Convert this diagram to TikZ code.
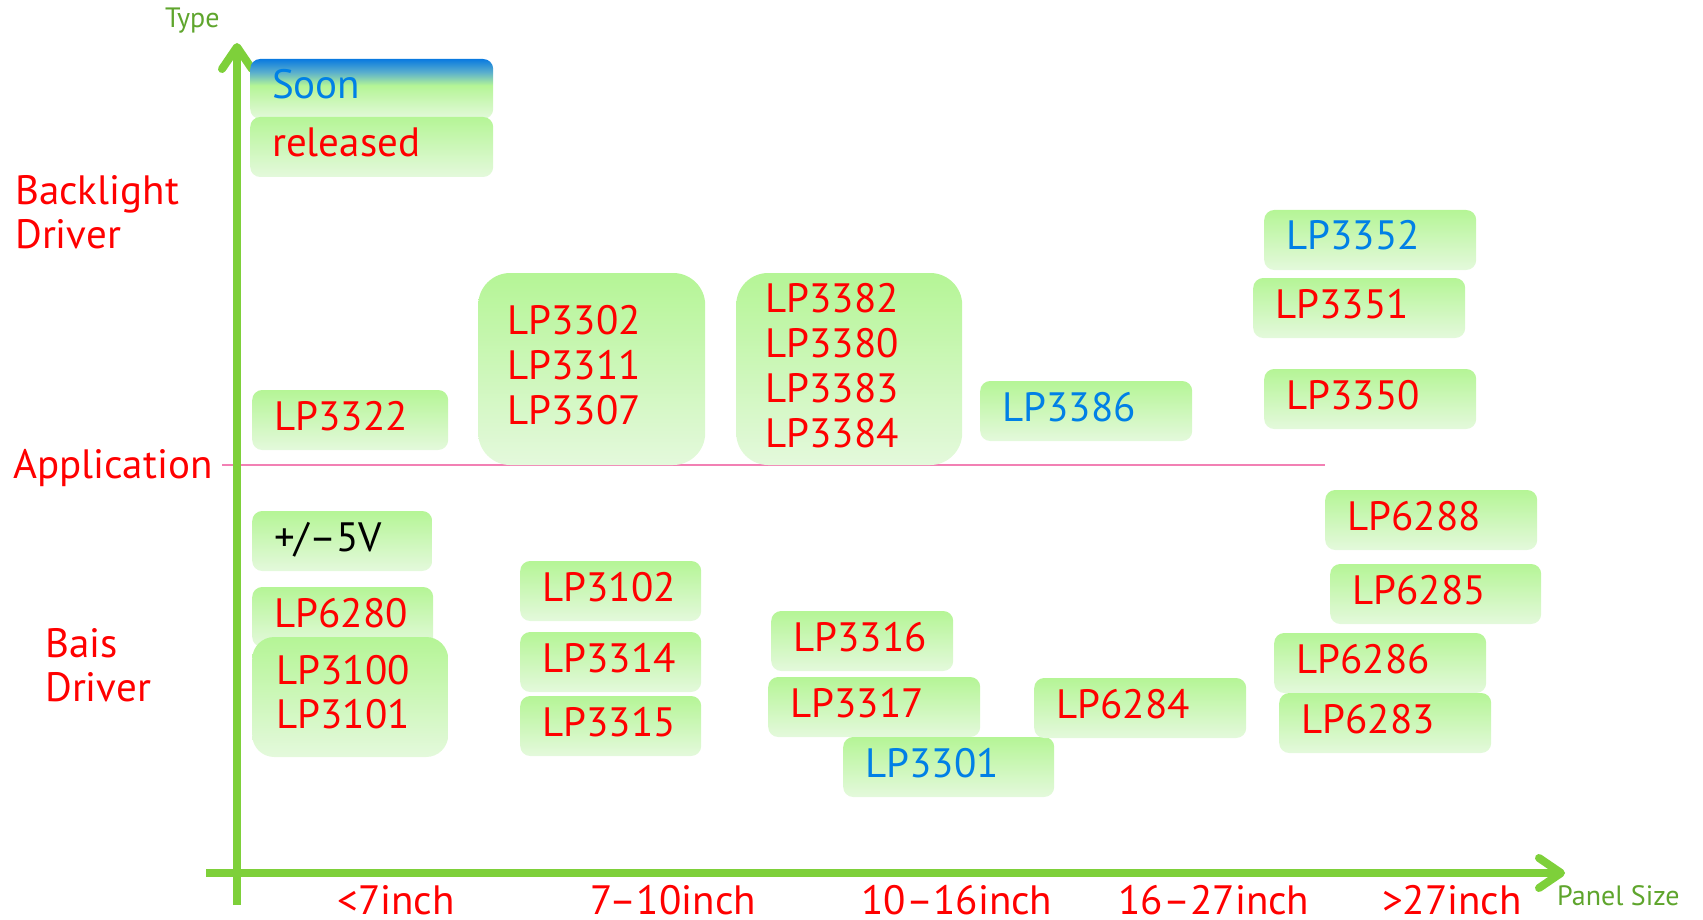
\documentclass[tikz,border=0pt]{standalone}
\usepackage{fontspec}
\setmainfont{PT Sans}
\usepackage{tikz}
\usetikzlibrary{arrows.meta}

\definecolor{boxtop}{RGB}{181,245,150}
\definecolor{boxbot}{RGB}{228,249,220}
\definecolor{soonblue}{RGB}{10,122,224}
\definecolor{soonmid}{RGB}{90,175,205}
\definecolor{partblue}{RGB}{0,128,230}
\definecolor{axisgreen}{RGB}{126,208,58}
\definecolor{labelgreen}{RGB}{95,165,45}
\definecolor{appline}{RGB}{242,128,180}

\pgfdeclareverticalshading{soonshade}{100bp}{color(0bp)=(boxbot); color(25bp)=(boxbot);
  color(53bp)=(boxtop); color(64bp)=(soonmid); color(75bp)=(soonblue); color(100bp)=(soonblue)}

\newcommand{\chipfont}{\fontsize{41pt}{45pt}\selectfont}
\newcommand{\tagfont}{\fontsize{28pt}{30pt}\selectfont}

\tikzset{
  chip/.style={rounded corners=10pt, top color=boxtop, bottom color=boxbot,
    anchor=base west, inner xsep=22pt, inner ysep=0pt, align=left,
    text height=40pt, text depth=20pt, text width=168pt, text=red, font=\chipfont},
  chipgroup/.style={chip, rounded corners=32pt, inner xsep=29pt},
  side/.style={anchor=base west, inner sep=0pt, align=left, text width=250pt,
    text=red, font=\fontsize{41pt}{44pt}\selectfont},
  size/.style={anchor=base, inner sep=0pt, text depth=0pt, text=red, font=\chipfont},
  axis/.style={line width=8pt, draw=axisgreen, -{Straight Barb[length=22pt,width=30pt,round]}}
}

\begin{document}
\begin{tikzpicture}[x=1pt, y=-1pt]
    \useasboundingbox (0,0) rectangle (1703,920);

    % axes and the application line
    \coordinate (appl) at (222,465);
    \coordinate (appr) at (1325,465);
    \draw[appline, line width=2.5pt] (appl) -- (appr);

    \coordinate (yfoot) at (237,905);
    \coordinate (ytip) at (237,43);
    \coordinate (xfoot) at (206,873);
    \coordinate (xtip) at (1565,873);
    \draw[axis] (yfoot) -- (ytip);
    \draw[axis] (xfoot) -- (xtip);

    \node[anchor=base west, inner sep=0pt, text=labelgreen, font=\tagfont] (type) at (165,28) {Type};
    \node[anchor=base west, inner sep=0pt, text=labelgreen, font=\tagfont] (panel) at (1557,905) {Panel Size};

    \node[side] (backlight) at (15,205) {Backlight\\Driver};
    \node[side] (app) at (13,478) {Application};
    \node[side] (bias) at (45,657) {Bais\\Driver};

    \node[size] (s7) at (396,914) {<7inch};
    \node[size] (s10) at (673,914) {7--10inch};
    \node[size] (s16) at (957,914) {10--16inch};
    \node[size] (s27) at (1214,914) {16--27inch};
    \node[size] (sbig) at (1452,914) {>27inch};

    % legend
    \node[chip, shade, shading=soonshade, text=partblue, text width=199pt] (soon) at (250,99) {Soon};
    \node[chip, text width=199pt] (released) at (250,157) {released};

    % backlight drivers
    \node[chip, text width=152pt] (lp3322) at (252,430) {LP3322};
    \node[chipgroup, text width=169pt, text height=61pt, text depth=131pt] (grp1) at (478,334) {LP3302\\LP3311\\LP3307};
    \node[chipgroup, text width=168pt, text height=39pt, text depth=153pt] (grp2) at (736,312) {LP3382\\LP3380\\LP3383\\LP3384};
    \node[chip, text=partblue] (lp3386) at (980,421) {LP3386};
    \node[chip, text=partblue] (lp3352) at (1264,250) {LP3352};
    \node[chip] (lp3351) at (1253,318) {LP3351};
    \node[chip] (lp3350) at (1264,409) {LP3350};

    % bias drivers
    \node[chip, text=black, text width=136pt] (pm5v) at (252,551) {+/--5V};
    \node[chip, text width=137pt] (lp6280) at (252,627) {LP6280};
    \node[chip, rounded corners=22pt, inner xsep=24pt, text width=148pt, text height=47pt, text depth=73pt, font=\fontsize{41pt}{44pt}\selectfont] (grp3) at (252,684) {LP3100\\LP3101};
    \node[chip, text width=137pt] (lp3102) at (520,601) {LP3102};
    \node[chip, text width=137pt] (lp3314) at (520,672) {LP3314};
    \node[chip, text width=137pt] (lp3315) at (520,736) {LP3315};
    \node[chip, text width=138pt] (lp3316) at (771,651) {LP3316};
    \node[chip] (lp3317) at (768,717) {LP3317};
    \node[chip, text=partblue, text width=167pt] (lp3301) at (843,777) {LP3301};
    \node[chip] (lp6284) at (1034,718) {LP6284};
    \node[chip] (lp6288) at (1325,530) {LP6288};
    \node[chip, text width=167pt] (lp6285) at (1330,604) {LP6285};
    \node[chip] (lp6286) at (1274,673) {LP6286};
    \node[chip] (lp6283) at (1279,733) {LP6283};
\end{tikzpicture}
\end{document}
